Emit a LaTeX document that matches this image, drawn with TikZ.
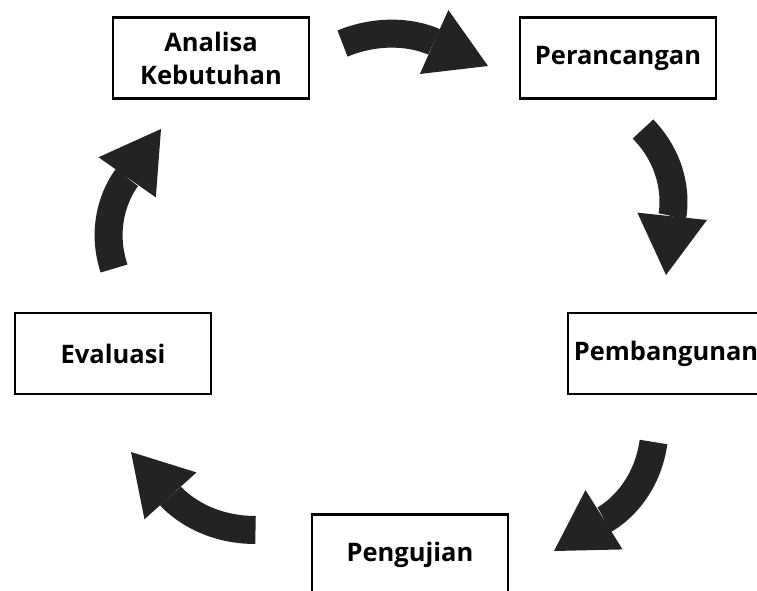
\documentclass[tikz,border=0pt]{standalone}
\usepackage{fontspec}
\setmainfont{Open Sans}
\usepackage{tikz}
\usetikzlibrary{arrows.meta}
\definecolor{arrowdark}{RGB}{35,35,35}

\begin{document}
\begin{tikzpicture}[
    x=1pt, y=1pt,
    stage/.style={draw, line width=2.7pt, minimum width=196pt, minimum height=81pt,
      align=center, inner sep=0pt, font=\bfseries\fontsize{25.5}{33}\selectfont},
    cyc/.style={line width=28pt, draw=arrowdark,
      -{Triangle[length=59pt,width=70pt,line width=0pt,fill=arrowdark]}}
    ]
    \clip (0,0) rectangle (757,-591);
    % the five stages
    \node[stage] (analisa) at (211,-58) {Analisa\\Kebutuhan};
    \node[stage] (rancang) at (618,-58) {Perancangan};
    \node[stage] (bangun) at (666,-353.5) {Pembangunan};
    \node[stage] (uji) at (410,-555) {Pengujian};
    \node[stage] (evaluasi) at (113,-353.5) {Evaluasi};
    % ends of the curved arrows
    \coordinate (a1s) at (342.5,-43.5);
    \coordinate (a1e) at (488,-66);
    \coordinate (a2s) at (643,-129);
    \coordinate (a2e) at (666,-275);
    \coordinate (a3s) at (653.5,-442);
    \coordinate (a3e) at (554,-551);
    \coordinate (a4s) at (255.5,-530);
    \coordinate (a4e) at (131,-452);
    \coordinate (a5s) at (114,-268.5);
    \coordinate (a5e) at (161,-129);
    \draw[cyc] (a1s) to[out=22,in=156] (a1e);
    \draw[cyc] (a2s) to[out=-46,in=84] (a2e);
    \draw[cyc] (a3s) to[out=-98,in=32] (a3e);
    \draw[cyc] (a4s) to[out=180,in=-48] (a4e);
    \draw[cyc] (a5s) to[out=108,in=235] (a5e);
\end{tikzpicture}
\end{document}
